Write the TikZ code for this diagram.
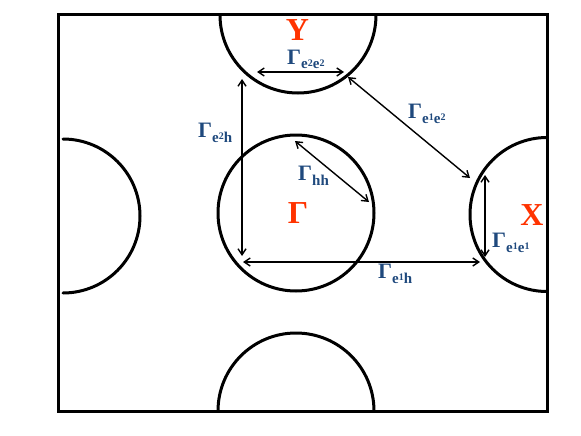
\documentclass[tikz,border=0pt]{standalone}
\usepackage{fontspec}
\setmainfont{Liberation Serif}
\usepackage{xcolor}
\usetikzlibrary{arrows.meta}
\definecolor{gapblue}{RGB}{31,73,125}
\definecolor{ptred}{RGB}{255,51,0}
\newcommand\gam[1]{Γ\raisebox{-5pt}{\fontsize{15}{15}\selectfont #1}}
\newcommand\dg[1]{\raisebox{3pt}{\fontsize{10}{10}\selectfont #1}}

\begin{document}
\begin{tikzpicture}[x=1pt, y=-1pt,
    zone/.style={line width=3pt},
    pocket/.style={line width=3pt, line cap=round},
    arrow/.style={<->, >={Straight Barb[length=6pt, width=8pt]}, line width=1.4pt},
    glabel/.style={text=gapblue, font=\bfseries\fontsize{22}{22}\selectfont, inner sep=0pt, anchor=base west},
    plabel/.style={text=ptred, font=\bfseries\fontsize{32}{32}\selectfont, inner sep=0pt, text depth=0pt, text height=21pt, anchor=base}
]
    \useasboundingbox (0,0) rectangle (581,436);
    \draw [zone] (58,15) rectangle (547,411);

    % pockets
    \node (hole) [circle, draw, line width=3pt, minimum size=156pt, inner sep=0pt] at (296,213) {};
    \draw [pocket] (220,15) arc[start angle=180, end angle=360, radius=78pt];
    \draw [pocket] (218,411) arc[start angle=180, end angle=0, radius=78pt];
    \draw [pocket] (63,139) arc[start angle=90, end angle=-90, radius=77pt];
    \draw [pocket] (547,137.5) arc[start angle=90, end angle=270, radius=77pt];

    % point labels
    \node (ylab) [plabel] at (297.5,41) {Y};
    \node (xlab) [plabel] at (532,225) {X};
    \node (glab) [plabel] at (298,223) {Γ};

    % gap labels
    \node (le2e2) [glabel] at (287,64) {\gam{e\dg{2}e\dg{2}}};
    \node (le2h) [glabel] at (198,137) {\gam{e\dg{2}h}};
    \node (lhh) [glabel] at (298,180) {\gam{hh}};
    \node (le1e2) [glabel] at (408,118) {\gam{e\dg{1}e\dg{2}}};
    \node (le1e1) [glabel] at (492,247) {\gam{e\dg{1}e\dg{1}}};
    \node (le1h) [glabel] at (378,278) {\gam{e\dg{1}h}};

    % arrow ends
    \coordinate (y1) at (257,72);
    \coordinate (y2) at (344,72);
    \coordinate (v1) at (242,79);
    \coordinate (v2) at (242,256);
    \coordinate (h1) at (243,262);
    \coordinate (h2) at (480,262);
    \coordinate (d1) at (295,141);
    \coordinate (d2) at (369,202);
    \coordinate (s1) at (348,77);
    \coordinate (s2) at (470,178);
    \coordinate (x1) at (485,175);
    \coordinate (x2) at (485,257);

    \path [arrow, draw] (y1) -- (y2);
    \path [arrow, draw] (v1) -- (v2);
    \path [arrow, draw] (h1) -- (h2);
    \path [arrow, draw] (d1) -- (d2);
    \path [arrow, draw] (s1) -- (s2);
    \path [arrow, draw] (x1) -- (x2);
\end{tikzpicture}
\end{document}
